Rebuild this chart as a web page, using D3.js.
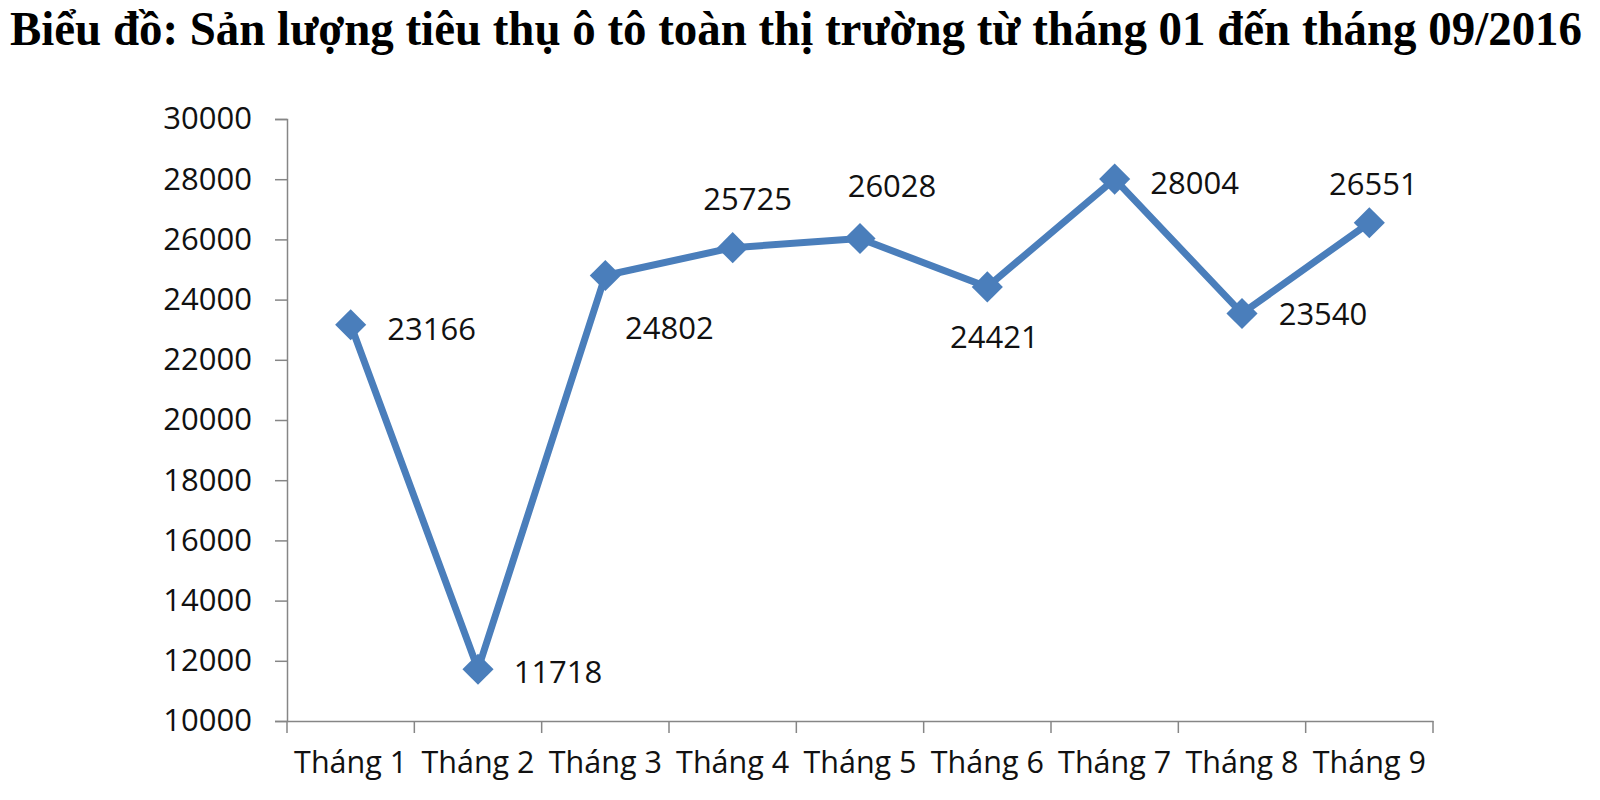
<!DOCTYPE html>
<html>
<head>
<meta charset="utf-8">
<script src="https://cdn.jsdelivr.net/npm/d3@7"></script>
<style>
  html, body { margin: 0; padding: 0; background: #fff; }
  svg { display: block; }
</style>
</head>
<body>
<svg id="chart" width="1600" height="800"></svg>
<script>
// ---- data ----
const title = "Biểu đồ: Sản lượng tiêu thụ ô tô toàn thị trường từ tháng 01 đến tháng 09/2016";
const months = ["Tháng 1", "Tháng 2", "Tháng 3", "Tháng 4", "Tháng 5", "Tháng 6", "Tháng 7", "Tháng 8", "Tháng 9"];
const sales = [23166, 11718, 24802, 25725, 26028, 24421, 28004, 23540, 26551];
const yTicks = [10000, 12000, 14000, 16000, 18000, 20000, 22000, 24000, 26000, 28000, 30000];
// label placement relative to each point (dx, dy of label centre)
const labelOffsets = [
  [81, 3], [80, 2], [64, 52], [15, -50], [32, -54],
  [7, 49], [80, 3], [81, 0], [4, -40]
];

// ---- layout ----
const svg = d3.select("#chart");
const mLeft = 287, mRight = 1433, mTop = 119, mBottom = 721;
const blue = "#4A7EBB";
const axisColor = "#868686";
const font = "'Open Sans', sans-serif";

const x = d3.scaleBand().domain(months).range([mLeft, mRight]).padding(0);
const y = d3.scaleLinear().domain([10000, 30000]).range([mBottom, mTop]);

// title
svg.append("text")
  .attr("transform", "translate(10,45) scale(1,1.07)")
  .attr("x", 0).attr("y", 0)
  .attr("font-family", "'Liberation Serif', 'Times New Roman', serif")
  .attr("font-weight", "bold")
  .attr("font-size", 45)
  .attr("textLength", 1572)
  .attr("lengthAdjust", "spacingAndGlyphs")
  .attr("fill", "#000")
  .text(title);

// y axis
const yAxis = d3.axisLeft(y).tickValues(yTicks).tickSize(12).tickPadding(23).tickFormat(d3.format("d"));
const gy = svg.append("g").attr("transform", `translate(${mLeft},0)`).call(yAxis);
gy.select(".domain").attr("stroke", axisColor).attr("stroke-width", 1.5);
gy.selectAll(".tick line").attr("stroke", axisColor).attr("stroke-width", 1.5);
gy.selectAll(".tick text").attr("font-family", font).attr("font-size", 31).attr("fill", "#111");

// x axis
const xAxis = d3.axisBottom(x).tickSize(0).tickPadding(30);
const gx = svg.append("g").attr("transform", `translate(0,${mBottom})`).call(xAxis);
gx.select(".domain").attr("stroke", axisColor).attr("stroke-width", 1.5);
gx.selectAll(".tick text").attr("font-family", font).attr("font-size", 30.5).attr("fill", "#111");
// category boundary ticks
const boundaries = months.map(m => x(m)).concat([x(months[months.length - 1]) + x.bandwidth()]);
gx.selectAll(".bound").data(boundaries).enter().append("line")
  .attr("x1", d => d).attr("x2", d => d).attr("y1", 0).attr("y2", 12)
  .attr("stroke", axisColor).attr("stroke-width", 1.5);

// line
const cx = (d, i) => x(months[i]) + x.bandwidth() / 2;
const line = d3.line().x((d, i) => cx(d, i)).y(d => y(d));
svg.append("path").datum(sales)
  .attr("d", line)
  .attr("fill", "none").attr("stroke", blue).attr("stroke-width", 7)
  .attr("stroke-linejoin", "round");

// markers (diamonds)
svg.selectAll(".mk").data(sales).enter().append("rect")
  .attr("x", -11).attr("y", -11).attr("width", 22).attr("height", 22)
  .attr("transform", (d, i) => `translate(${cx(d, i)},${y(d)}) rotate(45)`)
  .attr("fill", blue);

// data labels
svg.selectAll(".lbl").data(sales).enter().append("text")
  .attr("x", (d, i) => cx(d, i) + labelOffsets[i][0])
  .attr("y", (d, i) => y(d) + labelOffsets[i][1])
  .attr("text-anchor", "middle")
  .attr("dominant-baseline", "central")
  .attr("font-family", font).attr("font-size", 31).attr("fill", "#111")
  .text(d => d);
</script>
</body>
</html>
